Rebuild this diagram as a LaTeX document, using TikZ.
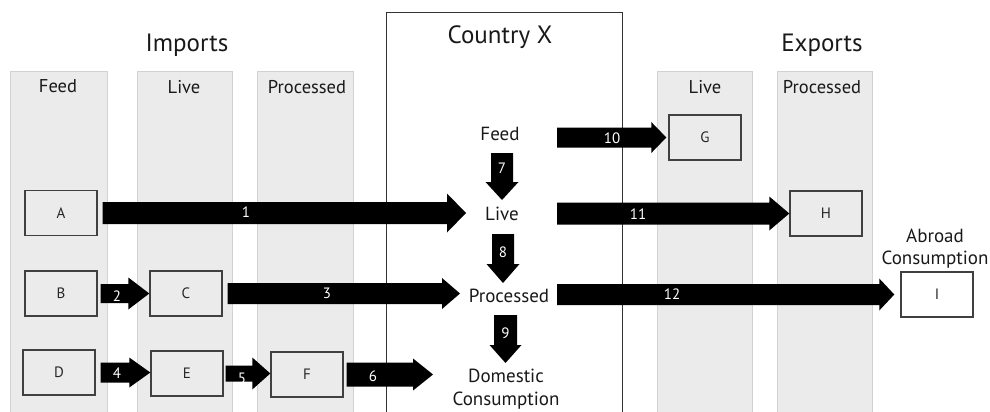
\documentclass[tikz,border=0pt]{standalone}
\usepackage{fontspec}
\setmainfont{PT Sans}
\usetikzlibrary{calc}
\definecolor{colfill}{HTML}{EBEBEB}
\definecolor{colline}{HTML}{D2D2D2}
\tikzset{
  column/.style={fill=colfill, draw=colline, line width=0.8pt},
  box/.style={draw=black!75, line width=1.4pt, fill=colfill, minimum width=72pt, minimum height=45pt, inner sep=0pt, font=\fontsize{15}{17}\selectfont, text=black!85},
  heading/.style={font=\fontsize{25}{29}\selectfont, inner sep=0pt, text=black!90},
  colhead/.style={font=\fontsize{18.5}{21}\selectfont, inner sep=0pt, text=black!90},
  stage/.style={font=\fontsize{19}{22.5}\selectfont, inner sep=0pt, align=center, text=black!90},
  num/.style={text=white, font=\fontsize{15}{17}\selectfont, inner sep=0pt},
  fat/.style={fill=black},
  countrybox/.style={draw=black!80, line width=1pt},
}
\newcommand\harr[5]{\fill[fat] let \p1=(#1), \p2=(#2) in
  ({\x1},{\y1+#3pt}) -- ({\x2-#5pt},{\y1+#3pt}) -- ({\x2-#5pt},{\y1+#4pt}) -- ({\x2},{\y1}) --
  ({\x2-#5pt},{\y1-#4pt}) -- ({\x2-#5pt},{\y1-#3pt}) -- ({\x1},{\y1-#3pt}) -- cycle;}
\newcommand\varr[5]{\fill[fat] let \p1=(#1), \p2=(#2) in
  ({\x1-#3pt},{\y1}) -- ({\x1+#3pt},{\y1}) -- ({\x1+#3pt},{\y2+#5pt}) -- ({\x1+#4pt},{\y2+#5pt}) --
  ({\x1},{\y2}) -- ({\x1-#4pt},{\y2+#5pt}) -- ({\x1-#3pt},{\y2+#5pt}) -- cycle;}
\begin{document}
\begin{tikzpicture}[x=1pt,y=-1pt]
\useasboundingbox (0,0) rectangle (990,412);
% columns
\draw[column] (10,71) rectangle (107,420);
\draw[column] (137,71) rectangle (232,420);
\draw[column] (257,71) rectangle (353,420);
\draw[column] (657,71) rectangle (752,420);
\draw[column] (777,71) rectangle (872,420);
\node[colhead] (chFeed) at (58,86) {Feed};
\node[colhead] (chLive) at (184,87) {Live};
\node[colhead] (chProc) at (307,87) {Processed};
\node[colhead] (chLiveX) at (705,87) {Live};
\node[colhead] (chProcX) at (822,87) {Processed};
% headings
\node[heading] (imports) at (187,45) {Imports};
\node[heading] (exports) at (822,45) {Exports};
% country box
\draw[countrybox] (386,420) -- (386,13) -- (622,13) -- (622,420);
\node[heading] (country) at (500,37) {Country X};
% boxes
\node[box] (A) at (61,213) {A};
\node[box] (B) at (61,293.5) {B};
\node[box] (C) at (186,293.5) {C};
\node[box] (D) at (59,372.5) {D};
\node[box] (E) at (187,373.5) {E};
\node[box] (F) at (307,374.5) {F};
\node[box] (G) at (705,137.5) {G};
\node[box] (H) at (826,213.5) {H};
\node[box, fill=white] (I) at (937,294.5) {I};
% stages
\node[stage] (sFeed) at (500,134) {Feed};
\node[stage] (sLive) at (502,214) {Live};
\node[stage] (sProc) at (509,296) {Processed};
\node[stage] (sDom) at (506,389) {Domestic\\Consumption};
\node[stage] (abroad) at (935,248.5) {Abroad\\Consumption};
% helper coordinates
\coordinate (xo) at (557,0);
\coordinate (v7s) at (502,153);
\coordinate (v7e) at (502,200);
\coordinate (v8s) at (503,234);
\coordinate (v8e) at (503,283);
\coordinate (v9s) at (505.5,315);
\coordinate (v9e) at (505.5,363);
\coordinate (t1) at (466,0);
\coordinate (t3) at (460,0);
\coordinate (t6) at (433,0);
% horizontal arrows
\harr{[xshift=5pt]A.east}{t1}{11}{19.5}{19}
\node[num] (n1) at (246,212) {1};
\harr{[xshift=3pt]B.east}{C.west}{9.5}{16}{21}
\node[num] (n2) at (117,296) {2};
\harr{[xshift=5pt]C.east}{t3}{10.5}{15.5}{18}
\node[num] (n3) at (327,293.5) {3};
\harr{[xshift=5pt]D.east}{E.west}{10}{15}{21}
\node[num] (n4) at (117,373) {4};
\harr{[xshift=2pt]E.east}{F.west}{8}{16}{18}
\node[num] (n5) at (242,378) {5};
\harr{[xshift=3pt]F.east}{t6}{12}{16}{20}
\node[num] (n6) at (373,376) {6};
\harr{xo |- G}{[xshift=-2pt]G.west}{10}{15.5}{15}
\node[num] (n10) at (612,138) {10};
\harr{xo |- H}{H.west}{11}{17}{20}
\node[num] (n11) at (638,214) {11};
\harr{xo |- I}{[xshift=-6pt]I.west}{10.5}{16}{15}
\node[num] (n12) at (672,294) {12};
% vertical arrows
\varr{v7s}{v7e}{11}{16.5}{18}
\node[num] (n7) at (502,168) {7};
\varr{v8s}{v8e}{11}{16.5}{19}
\node[num] (n8) at (503,252) {8};
\varr{v9s}{v9e}{11.5}{16}{18}
\node[num] (n9) at (505.5,333) {9};
\end{tikzpicture}
\end{document}
